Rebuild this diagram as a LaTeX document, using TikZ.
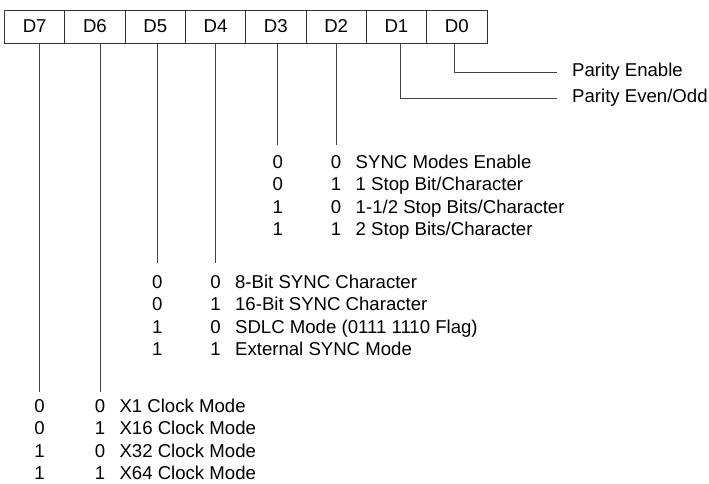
\documentclass[tikz,border=0pt]{standalone}
\usepackage{fontspec}
\setmainfont{Liberation Sans}
\usepackage{tikz}
\usetikzlibrary{positioning}
\newcommand{\regfont}{\fontsize{18.6}{22}\selectfont}
\tikzset{
  bitcell/.style={
    rectangle,
    draw=black!80,
    line width=0.8pt,
    minimum width=60.3pt,
    minimum height=33pt,
    inner sep=0pt,
    outer sep=0pt,
    font=\regfont
  },
  bitline/.style={
    draw=black!75,
    line width=0.8pt
  },
  codebit/.style={
    inner sep=0pt,
    text height=13pt,
    text depth=4pt,
    font=\regfont
  },
  codetext/.style={
    codebit,
    anchor=west
  }
}

\begin{document}
\begin{tikzpicture}[x=1pt, y=-1pt, node distance=5pt]
  \useasboundingbox (0,0) rectangle (709,483);
  % register
  \node[bitcell] (d7) at (34.65,26.5) {D7};
  \node[bitcell, right=0pt of d7] (d6) {D6};
  \node[bitcell, right=0pt of d6] (d5) {D5};
  \node[bitcell, right=0pt of d5] (d4) {D4};
  \node[bitcell, right=0pt of d4] (d3) {D3};
  \node[bitcell, right=0pt of d3] (d2) {D2};
  \node[bitcell, right=0pt of d2] (d1) {D1};
  \node[bitcell, right=0pt of d1] (d0) {D0};
  % tap points under the cells
  \coordinate (t7) at ([xshift=5pt]d7.south);
  \coordinate (t6) at ([xshift=5pt]d6.south);
  \coordinate (t5) at ([xshift=2pt]d5.south);
  \coordinate (t4) at (d4.south);
  \coordinate (t3) at ([xshift=2pt]d3.south);
  \coordinate (t2) at (d2.south);
  \coordinate (t1) at ([xshift=4pt]d1.south);
  \coordinate (t0) at ([xshift=-2pt]d0.south);

  % D1, D0
  \node[codetext] (parEn) at (572,72) {Parity Enable};
  \node[codetext] (parEo) at (572,98) {Parity Even/Odd};
  \draw[bitline, shorten >=15pt] (t0) |- (parEn.west);
  \draw[bitline, shorten >=15pt] (t1) |- (parEo.west);

  % D3, D2
  \node[codebit] (s3a) at (t3 |- 0,164) {0};
  \node[codebit, below=of s3a] (s3b) {0};
  \node[codebit, below=of s3b] (s3c) {1};
  \node[codebit, below=of s3c] (s3d) {1};
  \node[codebit] (s2a) at (t2 |- 0,164) {0};
  \node[codebit, below=of s2a] (s2b) {1};
  \node[codebit, below=of s2b] (s2c) {0};
  \node[codebit, below=of s2c] (s2d) {1};
  \node[codetext, right=14pt of s2a] {SYNC Modes Enable};
  \node[codetext, right=14pt of s2b] {1 Stop Bit/Character};
  \node[codetext, right=14pt of s2c] {1-1/2 Stop Bits/Character};
  \node[codetext, right=14pt of s2d] {2 Stop Bits/Character};
  \draw[bitline, shorten >=10pt] (t3) -- (s3a.north);
  \draw[bitline, shorten >=10pt] (t2) -- (s2a.north);

  % D5, D4
  \node[codebit] (y5a) at (t5 |- 0,284) {0};
  \node[codebit, below=of y5a] (y5b) {0};
  \node[codebit, below=of y5b] (y5c) {1};
  \node[codebit, below=of y5c] (y5d) {1};
  \node[codebit] (y4a) at (t4 |- 0,284) {0};
  \node[codebit, below=of y4a] (y4b) {1};
  \node[codebit, below=of y4b] (y4c) {0};
  \node[codebit, below=of y4c] (y4d) {1};
  \node[codetext, right=14pt of y4a] {8-Bit SYNC Character};
  \node[codetext, right=14pt of y4b] {16-Bit SYNC Character};
  \node[codetext, right=14pt of y4c] {SDLC Mode (0111 1110 Flag)};
  \node[codetext, right=14pt of y4d] {External SYNC Mode};
  \draw[bitline, shorten >=12.5pt] (t5) -- (y5a.north);
  \draw[bitline, shorten >=12.5pt] (t4) -- (y4a.north);

  % D7, D6
  \node[codebit] (c7a) at (t7 |- 0,408) {0};
  \node[codebit, below=of c7a] (c7b) {0};
  \node[codebit, below=of c7b] (c7c) {1};
  \node[codebit, below=of c7c] (c7d) {1};
  \node[codebit] (c6a) at (t6 |- 0,408) {0};
  \node[codebit, below=of c6a] (c6b) {1};
  \node[codebit, below=of c6b] (c6c) {0};
  \node[codebit, below=of c6c] (c6d) {1};
  \node[codetext, right=14pt of c6a] {X1 Clock Mode};
  \node[codetext, right=14pt of c6b] {X16 Clock Mode};
  \node[codetext, right=14pt of c6c] {X32 Clock Mode};
  \node[codetext, right=14pt of c6d] {X64 Clock Mode};
  \draw[bitline, shorten >=7.5pt] (t7) -- (c7a.north);
  \draw[bitline, shorten >=7.5pt] (t6) -- (c6a.north);
\end{tikzpicture}
\end{document}
